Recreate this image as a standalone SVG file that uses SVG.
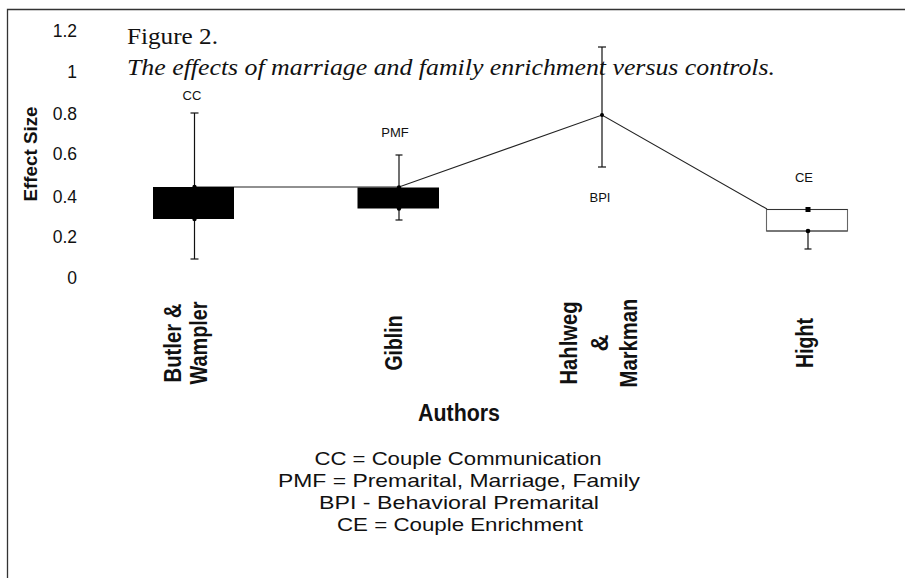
<svg xmlns="http://www.w3.org/2000/svg" width="905" height="578" viewBox="0 0 905 578">
<style>
.frame{stroke:#333;stroke-width:1.3;fill:none}
.tick{font-family:"Liberation Sans",Arial,sans-serif;font-size:17.5px;fill:#111;text-anchor:end}
.ttl{font-family:"Liberation Serif","Times New Roman",Times,serif;font-size:24px;fill:#111}
.lab{font-family:"Liberation Sans",Arial,sans-serif;font-size:13px;fill:#111;text-anchor:middle}
.cat{font-family:"Liberation Sans Narrow","Liberation Sans",Arial,sans-serif;font-weight:bold;font-size:23px;fill:#111;text-anchor:middle}
.leg{font-family:"Liberation Sans Narrow","Liberation Sans",Arial,sans-serif;font-size:18.5px;fill:#111;text-anchor:middle}
.bar{stroke:#111;stroke-width:1.2;fill:none}
.conn{stroke:#222;stroke-width:1.1;fill:none}
.dot{fill:#000}
</style>
<rect x="0" y="0" width="905" height="578" fill="#fff"/>
<path class="frame" d="M7.5,578 V9.5 H905"/>
<g id="y-axis">
<text class="tick" x="77" y="37">1.2</text>
<text class="tick" x="77" y="78">1</text>
<text class="tick" x="77" y="120">0.8</text>
<text class="tick" x="77" y="160">0.6</text>
<text class="tick" x="77" y="203">0.4</text>
<text class="tick" x="77" y="243">0.2</text>
<text class="tick" x="77" y="284">0</text>
<text transform="translate(37,154) rotate(-90)" font-family="Liberation Sans, Arial, sans-serif" font-weight="bold" font-size="17.5" text-anchor="middle" fill="#111" textLength="95" lengthAdjust="spacingAndGlyphs">Effect Size</text>
</g>
<g id="title">
<text class="ttl" x="127" y="44" textLength="91" lengthAdjust="spacingAndGlyphs">Figure 2.</text>
<text class="ttl" x="127" y="75" font-style="italic" textLength="648" lengthAdjust="spacingAndGlyphs">The effects of marriage and family enrichment versus controls.</text>
</g>
<g id="connectors">
<polyline class="conn" points="194.5,187 399,187 602,115 767,209"/>
</g>
<g id="cc">
<line class="bar" x1="194.5" y1="113" x2="194.5" y2="259"/>
<line class="bar" x1="190.5" y1="113" x2="198.5" y2="113"/>
<line class="bar" x1="190.5" y1="259" x2="198.5" y2="259"/>
<rect x="153" y="187" width="81" height="32" fill="#000"/>
<circle class="dot" cx="194.5" cy="187" r="2.2"/>
<circle class="dot" cx="194.5" cy="219" r="2.2"/>
<text class="lab" x="192" y="100">CC</text>
</g>
<g id="pmf">
<line class="bar" x1="399" y1="155" x2="399" y2="220"/>
<line class="bar" x1="395.5" y1="155" x2="402.5" y2="155"/>
<line class="bar" x1="395.5" y1="220" x2="402.5" y2="220"/>
<rect x="357.5" y="187.5" width="81.5" height="21" fill="#000"/>
<circle class="dot" cx="399" cy="187.5" r="2.2"/>
<circle class="dot" cx="399" cy="208.5" r="2.2"/>
<text class="lab" x="395" y="137">PMF</text>
</g>
<g id="bpi">
<line class="bar" x1="602" y1="47" x2="602" y2="167"/>
<line class="bar" x1="598" y1="47" x2="606" y2="47"/>
<line class="bar" x1="598" y1="167" x2="606" y2="167"/>
<circle class="dot" cx="602" cy="115" r="2"/>
<text class="lab" x="600" y="202">BPI</text>
</g>
<g id="ce">
<line class="bar" x1="808" y1="231" x2="808" y2="249"/>
<line class="bar" x1="804.5" y1="249" x2="811.5" y2="249"/>
<rect x="766.5" y="209.5" width="81" height="21.5" fill="#fff" stroke="#666" stroke-width="1.1"/>
<line x1="766.5" y1="209.5" x2="847.5" y2="209.5" stroke="#333" stroke-width="1"/>
<line x1="766.5" y1="231" x2="847.5" y2="231" stroke="#444" stroke-width="1"/>
<rect x="805.5" y="207" width="5" height="5" fill="#000"/>
<circle class="dot" cx="808" cy="231" r="2.3"/>
<text class="lab" x="804" y="182">CE</text>
</g>
<g id="x-axis">
<text class="cat" transform="translate(181,343) rotate(-90)" textLength="79" lengthAdjust="spacingAndGlyphs">Butler &amp;</text>
<text class="cat" transform="translate(207,343) rotate(-90)" textLength="83" lengthAdjust="spacingAndGlyphs">Wampler</text>
<text class="cat" transform="translate(402,343) rotate(-90)" textLength="55" lengthAdjust="spacingAndGlyphs">Giblin</text>
<text class="cat" transform="translate(577,343) rotate(-90)" textLength="83" lengthAdjust="spacingAndGlyphs">Hahlweg</text>
<text class="cat" transform="translate(608,343) rotate(-90)" textLength="17" lengthAdjust="spacingAndGlyphs">&amp;</text>
<text class="cat" transform="translate(637,343) rotate(-90)" textLength="89" lengthAdjust="spacingAndGlyphs">Markman</text>
<text class="cat" transform="translate(813,343) rotate(-90)" textLength="50" lengthAdjust="spacingAndGlyphs">Hight</text>
<text class="cat" x="459" y="421" font-size="22" textLength="82" lengthAdjust="spacingAndGlyphs">Authors</text>
</g>
<g id="legend">
<text class="leg" x="458" y="465" textLength="287" lengthAdjust="spacingAndGlyphs">CC = Couple Communication</text>
<text class="leg" x="459" y="487" textLength="362" lengthAdjust="spacingAndGlyphs">PMF = Premarital, Marriage, Family</text>
<text class="leg" x="459" y="509" textLength="280" lengthAdjust="spacingAndGlyphs">BPI - Behavioral Premarital</text>
<text class="leg" x="460" y="531" textLength="246" lengthAdjust="spacingAndGlyphs">CE = Couple Enrichment</text>
</g>
</svg>
